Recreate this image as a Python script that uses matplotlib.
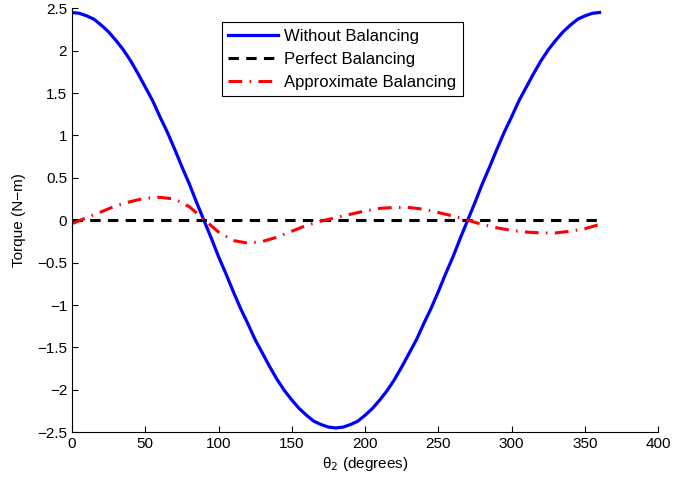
import matplotlib
matplotlib.use("Agg")
import matplotlib.pyplot as plt

# theta_2 samples (degrees) and torque readings (N-m)
theta_blue = list(range(0, 361, 5))
torque_without = [2.45, 2.44, 2.41, 2.37, 2.30, 2.22, 2.12, 2.01, 1.88, 1.73,
                  1.57, 1.41, 1.22, 1.04, 0.84, 0.63, 0.43, 0.21, 0.0,
                  -0.21, -0.43, -0.63, -0.84, -1.04, -1.22, -1.41, -1.57, -1.73,
                  -1.88, -2.01, -2.12, -2.22, -2.30, -2.37, -2.41, -2.44, -2.45,
                  -2.44, -2.41, -2.37, -2.30, -2.22, -2.12, -2.01, -1.88, -1.73,
                  -1.57, -1.41, -1.22, -1.04, -0.84, -0.63, -0.43, -0.21, 0.0,
                  0.21, 0.43, 0.63, 0.84, 1.04, 1.22, 1.41, 1.57, 1.73,
                  1.88, 2.01, 2.12, 2.22, 2.30, 2.37, 2.41, 2.44, 2.45]

theta_perfect = [0, 360]
torque_perfect = [0.0, 0.0]

theta_approx = list(range(0, 361, 10))
torque_approx = [-0.04, 0.03, 0.10, 0.17, 0.22, 0.26, 0.27, 0.25, 0.16, 0.01,
                 -0.14, -0.24, -0.27, -0.25, -0.20, -0.13, -0.06, -0.01, 0.03,
                 0.07, 0.11, 0.14, 0.15, 0.15, 0.13, 0.09, 0.05, 0.0,
                 -0.05, -0.09, -0.12, -0.14, -0.15, -0.15, -0.13, -0.10, -0.05]

plt.rcParams['font.family'] = ['Liberation Sans', 'DejaVu Sans']
plt.rcParams['font.size'] = 11

fig = plt.figure(figsize=(6.73, 4.84), dpi=100)
ax = fig.add_axes([0.107, 0.107, 0.871, 0.876])

ax.plot(theta_blue, torque_without, color='#0000ff', lw=2.3, label='Without Balancing')
ax.plot(theta_perfect, torque_perfect, color='black', lw=2.2, linestyle=(0, (3.4, 2.4)),
        label='Perfect Balancing')
ax.plot(theta_approx, torque_approx, color='#ff0000', lw=2.2, linestyle=(0, (4.5, 2.4, 0.5, 2.4)),
        label='Approximate Balancing')

ax.set_xlim(0, 400)
ax.set_ylim(-2.5, 2.5)
ax.set_xticks(range(0, 401, 50))
ax.set_yticks([-2.5, -2, -1.5, -1, -0.5, 0, 0.5, 1, 1.5, 2, 2.5])
ax.set_yticklabels(['\u22122.5', '\u22122', '\u22121.5', '\u22121', '\u22120.5', '0',
                    '0.5', '1', '1.5', '2', '2.5'])
ax.spines['top'].set_visible(False)
ax.spines['right'].set_visible(False)
ax.tick_params(direction='in', length=4, width=0.8, labelsize=11)

ax.set_xlabel('\u03b8$_2$ (degrees)', fontsize=11, labelpad=3)
ax.set_ylabel('Torque (N\u2212m)', fontsize=11, labelpad=8)

leg = ax.legend(loc='upper left', bbox_to_anchor=(0.256, 0.967), fancybox=False,
                edgecolor='black', framealpha=1, fontsize=12, handlelength=3.0,
                borderpad=0.38, labelspacing=0.48, handletextpad=0.35, borderaxespad=0)
leg.get_frame().set_linewidth(0.8)

fig.savefig('out.png', dpi=100)
